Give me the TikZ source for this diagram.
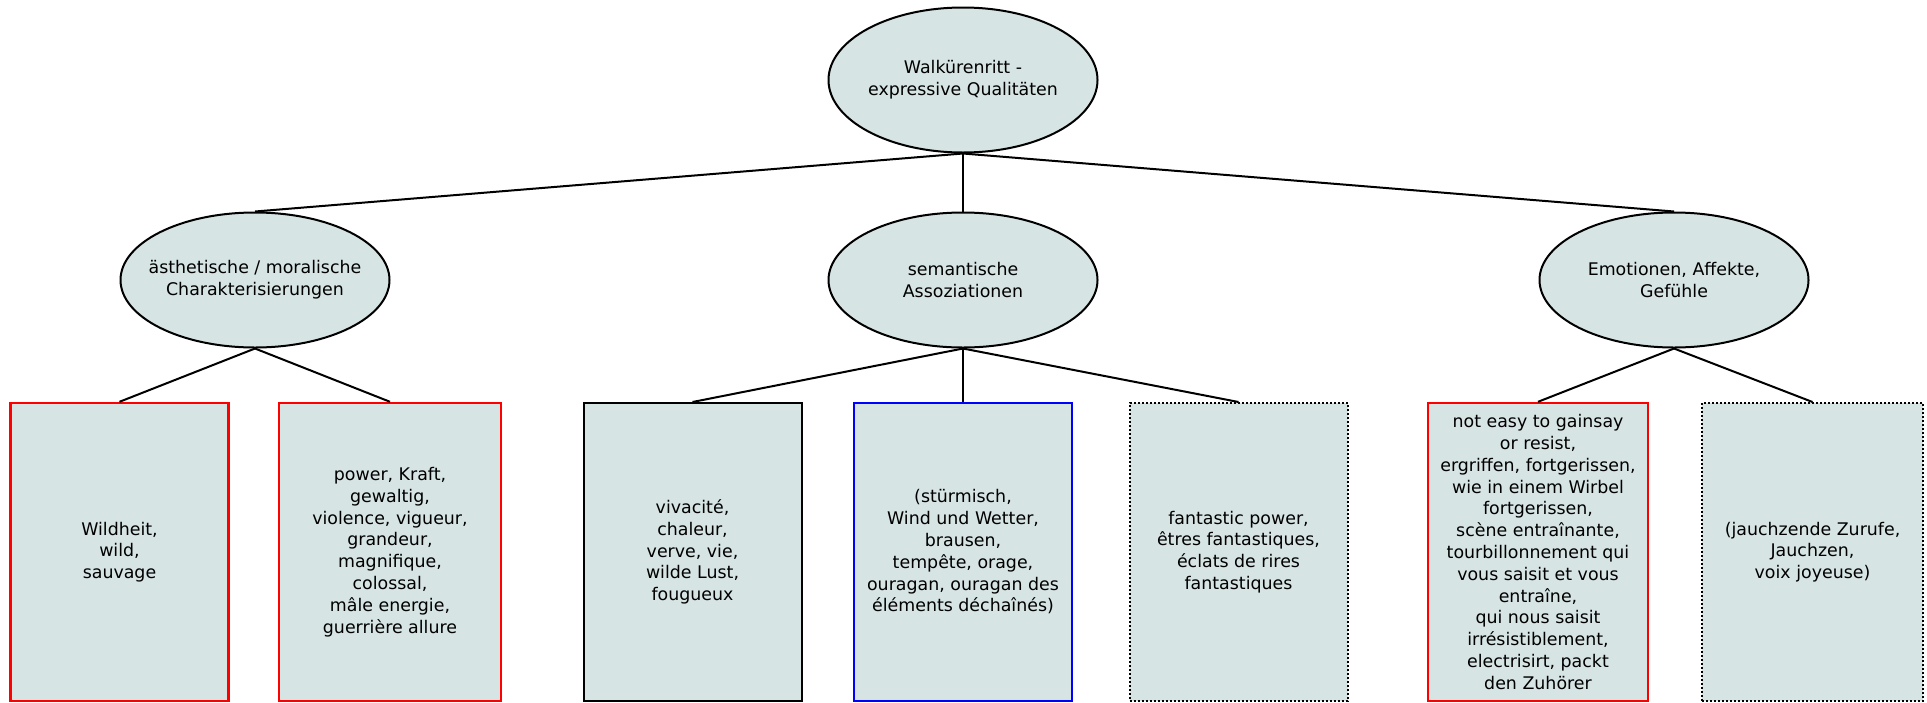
\documentclass[tikz,border=0pt]{standalone}
\usepackage{fontspec}
\setmainfont{DejaVu Sans}
\usetikzlibrary{shapes.geometric}
\definecolor{wkfill}{HTML}{D7E4E4}
\definecolor{wkred}{HTML}{FF0000}
\definecolor{wkblue}{HTML}{0000FF}
\newcommand{\wkfont}{\fontsize{8.7}{10.9}\selectfont}
\tikzset{
  topicOval/.style={ellipse, draw=black, fill=wkfill, line width=1pt, inner xsep=-30pt, inner ysep=0pt, minimum width=134.5pt, minimum height=67.5pt, align=center, font=\wkfont},
  leafBox/.style={rectangle, fill=wkfill, line width=1.2pt, inner sep=0pt, minimum width=109pt, minimum height=149pt, align=center, font=\wkfont},
  redBox/.style={leafBox, draw=wkred},
  blueBox/.style={leafBox, draw=wkblue},
  blackBox/.style={leafBox, draw=black, line width=1pt},
  dotBox/.style={leafBox, draw=black, line width=1pt, dash pattern=on 1pt off 1pt},
  treeLine/.style={line width=1pt, draw=black}
}

\begin{document}
\begin{tikzpicture}[x=0.5pt, y=-0.5pt]
  \useasboundingbox (0,0) rectangle (1927,702);

  % root and the three branches
  \node[topicOval, minimum height=72.5pt] (root) at (963,80) {Walkürenritt -\\ expressive Qualitäten};
  \node[topicOval] (aesth) at (255,280) {ästhetische / moralische\\ Charakterisierungen};
  \node[topicOval] (sem) at (963,280) {semantische\\ Assoziationen};
  \node[topicOval] (emo) at (1674,280) {Emotionen, Affekte,\\ Gefühle};

  % leaves
  \node[redBox] (wild) at (119.5,552) {Wildheit,\\ wild,\\ sauvage};
  \node[redBox, minimum width=111pt] (power) at (390,552) {power, Kraft,\\ gewaltig,\\ violence, vigueur,\\ grandeur,\\ magnifique,\\ colossal,\\ mâle energie,\\ guerrière allure};
  \node[blackBox] (viva) at (692.5,552) {vivacité,\\ chaleur,\\ verve, vie,\\ wilde Lust,\\ fougueux};
  \node[blueBox] (storm) at (963,552) {(stürmisch,\\ Wind und Wetter,\\ brausen,\\ tempête, orage,\\ ouragan, ouragan des\\ éléments déchaînés)};
  \node[dotBox] (fant) at (1238.5,552) {fantastic power,\\ êtres fantastiques,\\ éclats de rires\\ fantastiques};
  \node[redBox, minimum width=110pt] (seize) at (1538,552) {not easy to gainsay\\ or resist,\\ ergriffen, fortgerissen,\\ wie in einem Wirbel\\ fortgerissen,\\ scène entraînante,\\ tourbillonnement qui\\ vous saisit et vous\\ entraîne,\\ qui nous saisit\\ irrésistiblement,\\ electrisirt, packt\\ den Zuhörer};
  \node[dotBox, minimum width=110.5pt] (jauch) at (1812.5,552) {(jauchzende Zurufe,\\ Jauchzen,\\ voix joyeuse)};

  \draw[treeLine] (root.south) -- (aesth.north);
  \draw[treeLine] (root.south) -- (sem.north);
  \draw[treeLine] (root.south) -- (emo.north);

  \draw[treeLine] (aesth.south) -- (wild.north);
  \draw[treeLine] (aesth.south) -- (power.north);
  \draw[treeLine] (sem.south) -- (viva.north);
  \draw[treeLine] (sem.south) -- (storm.north);
  \draw[treeLine] (sem.south) -- (fant.north);
  \draw[treeLine] (emo.south) -- (seize.north);
  \draw[treeLine] (emo.south) -- (jauch.north);
\end{tikzpicture}
\end{document}
